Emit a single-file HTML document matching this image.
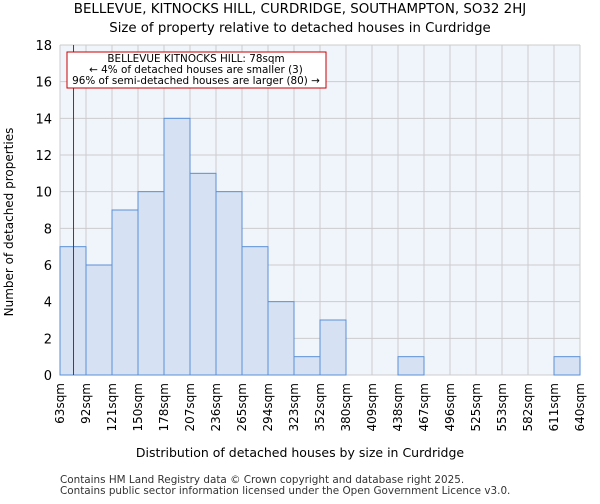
<!DOCTYPE html>
<html><head><meta charset="utf-8"><style>
body{margin:0;background:#fff;font-family:"DejaVu Sans","Liberation Sans",sans-serif}
</style></head><body>
<svg id="c" width="600" height="500" xmlns="http://www.w3.org/2000/svg" font-family="DejaVu Sans, Liberation Sans, sans-serif">
<text x="300" y="13" text-anchor="middle" font-size="13.4">BELLEVUE, KITNOCKS HILL, CURDRIDGE, SOUTHAMPTON, SO32 2HJ</text>
<text x="300" y="32" text-anchor="middle" font-size="13.3">Size of property relative to detached houses in Curdridge</text>
<rect x="60" y="45" width="520" height="330" fill="#f0f4fb"/>
<g id="grid"></g><g id="bars"></g><g id="axes"></g>
<text x="300" y="457" text-anchor="middle" font-size="12.5">Distribution of detached houses by size in Curdridge</text>
<text transform="translate(13,222) rotate(-90)" text-anchor="middle" font-size="12">Number of detached properties</text>
<text x="60" y="483" font-size="10.4" fill="#333">Contains HM Land Registry data © Crown copyright and database right 2025.</text>
<text x="60" y="494" font-size="10.4" fill="#333">Contains public sector information licensed under the Open Government Licence v3.0.</text>
</svg>
<script>
const binLabels=["63sqm","92sqm","121sqm","150sqm","178sqm","207sqm","236sqm","265sqm","294sqm","323sqm","352sqm","380sqm","409sqm","438sqm","467sqm","496sqm","525sqm","553sqm","582sqm","611sqm","640sqm"];
const counts=[7,6,9,10,14,11,10,7,4,1,3,0,0,1,0,0,0,0,0,1];
const yTicks=[0,2,4,6,8,10,12,14,16,18];
const subjectSize=78;
const minSize=63, maxSize=640;
const NS="http://www.w3.org/2000/svg";
const L=60,R=580,T=45,B=375,yMax=18;
const xi=i=>L+i*(R-L)/counts.length;
const xs=v=>L+(v-minSize)/(maxSize-minSize)*(R-L);
const ys=v=>B-v/yMax*(B-T);
function mk(p,tag,a){const e=document.createElementNS(NS,tag);for(const k in a)e.setAttribute(k,a[k]);p.appendChild(e);return e;}
const g=document.getElementById('grid'),b=document.getElementById('bars'),ax=document.getElementById('axes');
yTicks.forEach(t=>{const l=mk(g,'line',{x1:L,x2:R,y1:ys(t),y2:ys(t),stroke:'#cccccc','stroke-width':1});


const tx=mk(ax,'text',{x:L-8,y:ys(t)+5,'text-anchor':'end','font-size':13});tx.textContent=t;

});
binLabels.forEach((s,i)=>{const l=mk(g,'line',{x1:xi(i),x2:xi(i),y1:T,y2:B,stroke:'#cccccc','stroke-width':1});


const x=xi(i),tx=mk(ax,'text',{transform:`translate(${x+4},${B+8}) rotate(-90)`,'text-anchor':'end','font-size':12});tx.textContent=s;

});
counts.forEach((c,i)=>{if(c<=0)return;const r=mk(b,'rect',{x:xi(i),y:ys(c),width:xi(i+1)-xi(i),height:B-ys(c),fill:'#d6e2f4',stroke:'#5b8fd6','stroke-width':1});

});
const ln=mk(ax,'line',{x1:xs(subjectSize),x2:xs(subjectSize),y1:T,y2:B,stroke:'#dd0000','stroke-width':1});


const box=mk(ax,'rect',{x:67,y:52,width:259,height:36,fill:'#fff',stroke:'#cc0000','stroke-width':1});


["BELLEVUE KITNOCKS HILL: 78sqm","← 4% of detached houses are smaller (3)","96% of semi-detached houses are larger (80) →"].forEach((s,i)=>{const t=mk(ax,'text',{x:196,y:62+i*11,'text-anchor':'middle','font-size':10.4});t.textContent=s;

});
</script>
</body></html>
